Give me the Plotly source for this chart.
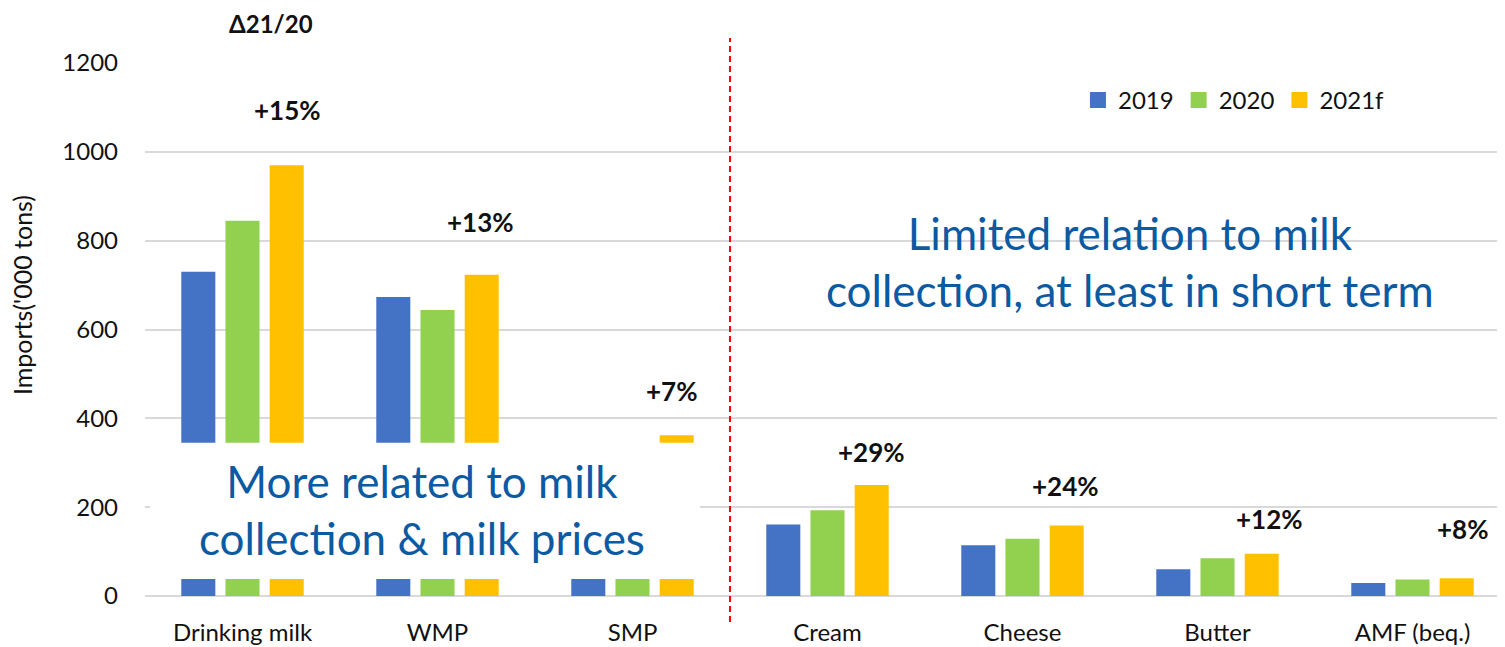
import plotly.graph_objects as go

categories = ["Drinking milk", "WMP", "SMP", "Cream", "Cheese", "Butter", "AMF (beq.)"]
years = ["2019", "2020", "2021f"]
v2019 = [730, 673, 320, 161, 114, 60, 29]
v2020 = [845, 644, 338, 193, 129, 85, 37]
v2021 = [970, 723, 362, 250, 159, 95, 40]
changes = ["+15%", "+13%", "+7%", "+29%", "+24%", "+12%", "+8%"]
y_ticks = [0, 200, 400, 600, 800, 1000, 1200]

# layout-only offsets for the change labels (pixels)
label_dx = [45, 43, 39, 44, 43, 52, 50]
label_dy = [55, 53, 44, 33, 39, 35, 49]

colors = ["#4472C4", "#92D050", "#FFC000"]
FONT = "Lato"
OFF = 8  # default body margin of the page
W, H = 1505 - OFF, 647 - OFF
ML, MR, MT, MB = 145 - OFF, 0, 63 - OFF, 647 - 596

fig = go.Figure()
for name, vals, c in zip(years, [v2019, v2020, v2021], colors):
    fig.add_trace(go.Bar(name=name, x=categories, y=vals, marker_color=c,
                         marker_line_width=0, showlegend=False))
# legend entries with larger square swatches
for name, c in zip(years, colors):
    fig.add_trace(go.Scatter(name=name, x=[None], y=[None], mode="markers",
                             marker=dict(symbol="square", size=16, color=c),
                             showlegend=True, hoverinfo="skip"))

xspan = (W - ML - MR) / 195.0

# change labels
for i, (cat, txt) in enumerate(zip(categories, changes)):
    fig.add_annotation(x=cat, y=v2021[i], xref="x", yref="y", text="<b>%s</b>" % txt,
                       showarrow=False, xshift=label_dx[i], yshift=label_dy[i],
                       yanchor="middle", xanchor="center",
                       font=dict(family=FONT, size=26, color="#111111"))

fig.add_annotation(x=0.0926, y=1.075, xref="paper", yref="paper", text="<b>Δ21/20</b>",
                   showarrow=False, xanchor="center", yanchor="middle",
                   font=dict(family=FONT, size=24, color="#111111"))

# y axis title
fig.add_annotation(x=-0.0904, y=0.5647, xref="paper", yref="paper", text="Imports('000 tons)",
                   showarrow=False, textangle=-90, xanchor="center", yanchor="middle",
                   font=dict(family=FONT, size=25, color="#111111"))

# white text box covering left group
fig.add_shape(type="rect", xref="x", yref="y", x0=-0.474, x1=2.346, y0=38, y1=345,
              fillcolor="white", line_width=0, layer="above")

fig.add_annotation(x=0.92, y=194, xref="x", yref="y",
                   text="More related to milk<br>collection & milk prices",
                   showarrow=False, xanchor="center", yanchor="middle",
                   font=dict(family=FONT, size=44, color="#0B5AA2"))

fig.add_annotation(x=4.55, y=752, xref="x", yref="y",
                   text="Limited relation to milk<br>collection, at least in short term",
                   showarrow=False, xanchor="center", yanchor="middle",
                   font=dict(family=FONT, size=44, color="#0B5AA2"))

# red dashed separator
fig.add_shape(type="line", xref="x", yref="paper", x0=2.5, x1=2.5, y0=-0.049, y1=1.047,
              line=dict(color="#FF0000", width=2, dash="6px,4px"), layer="above")

fig.update_layout(
    width=W, height=H,
    margin=dict(l=ML, r=MR, t=MT, b=MB, autoexpand=False),
    plot_bgcolor="white", paper_bgcolor="white",
    barmode="group", bargap=0.32, bargroupgap=0.23,
    font=dict(family=FONT, color="#111111"),
    legend=dict(orientation="h", x=0.686, y=0.93, xanchor="left", yanchor="middle",
                font=dict(family=FONT, size=24, color="#111111"),
                bgcolor="rgba(0,0,0,0)", itemwidth=30),
)
fig.update_xaxes(range=[-0.5, -0.5 + xspan], showline=False, showgrid=False,
                 ticks="", ticklabelstandoff=20,
                 tickfont=dict(family=FONT, size=24, color="#111111"))
fig.update_yaxes(range=[0, 1200], tickvals=y_ticks, showgrid=True, gridcolor="#D9D9D9",
                 gridwidth=1.5, zeroline=True, zerolinecolor="#D9D9D9", zerolinewidth=1.5,
                 showline=False, ticks="", ticklabelstandoff=26,
                 tickfont=dict(family=FONT, size=24, color="#111111"))

fig.write_html("out.html")
